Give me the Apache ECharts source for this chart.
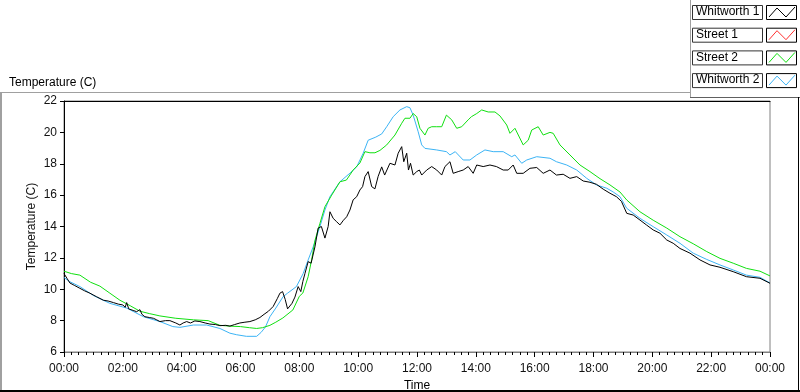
<!DOCTYPE html>
<html>
<head>
<meta charset="utf-8">
<script src="https://cdn.jsdelivr.net/npm/echarts@6/dist/echarts.min.js"></script>
<style>
  html, body { margin: 0; padding: 0; background: #fff; }
  #chart { width: 800px; height: 392px; }
</style>
</head>
<body>
<div id="chart"></div>
<script>
// series names + colours (legend order)
const seriesNames = ['Whitworth 1', 'Street 1', 'Street 2', 'Whitworth 2'];
const seriesColors = ['#000000', '#ff3030', '#10e010', '#3cb4f5'];

// x = hours since midnight, y = temperature (C)
const whitworth1 = [
  [0, 11.0], [0.1, 10.7], [0.2, 10.4], [0.35, 10.25], [0.54, 10.06], [0.7, 9.9], [0.88, 9.75],
  [1.1, 9.53], [1.34, 9.3], [1.5, 9.25], [1.68, 9.15], [1.85, 9.05], [2.0, 9.0], [2.08, 8.85],
  [2.13, 9.15], [2.2, 8.75], [2.35, 8.65], [2.47, 8.57], [2.58, 8.7], [2.65, 8.4], [2.75, 8.25],
  [2.9, 8.2], [3.04, 8.15], [3.15, 8.05], [3.26, 7.94], [3.45, 8.0], [3.6, 8.0], [3.8, 7.85],
  [3.94, 7.72], [4.05, 7.85], [4.17, 7.94], [4.3, 7.85], [4.45, 7.98], [4.62, 7.94], [4.8, 7.85],
  [4.96, 7.78], [5.15, 7.75], [5.3, 7.68], [5.5, 7.7], [5.64, 7.65], [5.8, 7.75], [5.98, 7.85],
  [6.15, 7.9], [6.32, 7.94], [6.5, 8.05], [6.66, 8.2], [6.8, 8.4], [6.95, 8.6], [7.11, 8.9],
  [7.25, 9.4], [7.34, 9.75], [7.43, 9.85], [7.52, 9.35], [7.6, 8.75], [7.66, 8.68], [7.75, 9.1],
  [7.85, 9.5], [7.96, 10.17], [8.05, 9.85], [8.12, 10.5], [8.19, 11.0], [8.3, 11.76], [8.4, 11.66],
  [8.53, 12.7], [8.64, 13.9], [8.75, 14.0], [8.87, 13.26], [8.98, 14.0], [9.04, 14.94], [9.15, 14.52],
  [9.27, 14.3], [9.38, 14.1], [9.5, 14.4], [9.61, 14.62], [9.72, 15.05], [9.83, 15.7], [9.95, 15.9],
  [10.06, 16.33], [10.15, 16.54], [10.23, 17.18], [10.34, 17.5], [10.46, 16.54], [10.57, 16.4],
  [10.68, 17.2], [10.8, 17.8], [10.9, 17.28], [11.08, 18.03], [11.25, 17.92], [11.36, 18.67],
  [11.48, 19.09], [11.55, 18.13], [11.65, 18.67], [11.71, 17.6], [11.78, 18.03], [11.87, 17.28],
  [11.99, 17.5], [12.08, 17.6], [12.16, 17.28], [12.33, 17.6], [12.5, 17.82], [12.67, 17.6],
  [12.84, 17.28], [12.95, 17.82], [13.12, 18.13], [13.23, 17.39], [13.4, 17.5], [13.57, 17.6],
  [13.74, 17.82], [13.91, 17.39], [14.03, 17.92], [14.25, 17.82], [14.48, 17.92], [14.7, 17.82],
  [14.93, 17.6], [15.1, 17.6], [15.27, 17.92], [15.39, 17.39], [15.61, 17.39], [15.84, 17.71],
  [16.07, 17.76], [16.29, 17.39], [16.52, 17.6], [16.74, 17.28], [16.97, 17.33], [17.2, 17.07],
  [17.43, 17.18], [17.65, 16.9], [17.88, 16.82], [18.1, 16.69], [18.33, 16.38], [18.56, 16.12],
  [18.78, 15.9], [18.95, 15.6], [19.13, 14.84], [19.35, 14.73], [19.58, 14.41], [19.8, 14.1],
  [20.03, 13.78], [20.26, 13.57], [20.49, 13.14], [20.71, 12.93], [20.94, 12.6], [21.28, 12.3],
  [21.62, 11.87], [21.96, 11.55], [22.3, 11.4], [22.75, 11.12], [23.2, 10.8], [23.66, 10.7], [24, 10.38]
];

const street1 = [];

const street2 = [
  [0, 11.15], [0.25, 11.0], [0.54, 10.9], [0.9, 10.45], [1.22, 10.2], [1.56, 9.75], [1.9, 9.3],
  [2.25, 8.95], [2.58, 8.6], [2.9, 8.45], [3.26, 8.3], [3.8, 8.15], [4.4, 8.05], [4.9, 8.0],
  [5.3, 7.7], [5.64, 7.65], [6.0, 7.62], [6.3, 7.55], [6.55, 7.5], [6.75, 7.55], [7.0, 7.7],
  [7.2, 7.9], [7.44, 8.17], [7.78, 8.68], [8.0, 9.55], [8.12, 9.76], [8.3, 10.8], [8.42, 11.9],
  [8.53, 13.1], [8.7, 14.2], [8.87, 15.26], [9.1, 16.0], [9.38, 16.85], [9.6, 16.96], [9.83, 17.6],
  [10.06, 18.05], [10.23, 18.77], [10.4, 18.7], [10.57, 18.7], [10.74, 18.85], [10.97, 19.2],
  [11.25, 19.83], [11.48, 20.58], [11.59, 20.9], [11.76, 20.9], [11.87, 21.2], [11.99, 21.0],
  [12.1, 20.26], [12.27, 19.83], [12.38, 20.26], [12.5, 20.36], [12.67, 20.36], [12.84, 20.36],
  [13.0, 21.1], [13.18, 20.8], [13.35, 20.26], [13.52, 20.36], [13.74, 20.8], [13.85, 21.0],
  [14.03, 21.2], [14.2, 21.43], [14.42, 21.3], [14.65, 21.3], [14.82, 21.05], [15.05, 20.47],
  [15.16, 19.94], [15.33, 20.26], [15.61, 19.2], [15.78, 19.5], [15.9, 20.15], [16.12, 20.36],
  [16.29, 19.83], [16.52, 20.0], [16.63, 19.94], [16.86, 19.2], [17.2, 18.56], [17.54, 17.92],
  [17.88, 17.5], [18.22, 17.05], [18.56, 16.65], [18.9, 16.2], [19.13, 15.69], [19.58, 14.94],
  [20.03, 14.4], [20.49, 13.9], [20.94, 13.35], [21.39, 12.9], [21.85, 12.4], [22.3, 11.97],
  [22.75, 11.66], [23.2, 11.33], [23.66, 11.15], [24, 10.85]
];

const whitworth2 = [
  [0, 10.75], [0.2, 10.48], [0.54, 10.17], [1.0, 9.6], [1.56, 9.1], [2.13, 8.8], [2.7, 8.25],
  [3.26, 7.94], [3.7, 7.62], [3.94, 7.57], [4.4, 7.72], [4.85, 7.72], [5.3, 7.5], [5.64, 7.2],
  [5.87, 7.1], [6.2, 7.0], [6.55, 7.0], [6.7, 7.25], [6.85, 7.6], [7.0, 8.25], [7.2, 8.8],
  [7.45, 9.53], [7.6, 9.75], [7.9, 10.17], [8.13, 11.0], [8.3, 11.87], [8.47, 12.7], [8.7, 14.0],
  [8.87, 15.05], [9.04, 15.9], [9.38, 16.85], [9.72, 17.4], [9.95, 17.8], [10.17, 18.67],
  [10.34, 19.5], [10.6, 19.7], [10.8, 19.9], [10.97, 20.36], [11.19, 21.0], [11.42, 21.43],
  [11.65, 21.64], [11.76, 21.57], [11.87, 21.1], [12.04, 20.04], [12.16, 19.2], [12.27, 18.98],
  [12.67, 18.88], [13.0, 18.77], [13.12, 18.56], [13.3, 18.77], [13.57, 18.24], [13.8, 18.24],
  [14.03, 18.56], [14.31, 18.88], [14.59, 18.77], [14.93, 18.77], [15.22, 18.45], [15.33, 18.56],
  [15.56, 18.03], [15.73, 18.24], [16.07, 18.45], [16.52, 18.35], [16.74, 18.13], [17.09, 17.92],
  [17.43, 17.6], [17.77, 17.07], [18.1, 16.65], [18.45, 16.44], [18.67, 16.2], [18.9, 15.9],
  [19.13, 15.16], [19.58, 14.52], [20.03, 13.99], [20.49, 13.46], [20.94, 12.93], [21.39, 12.3],
  [21.85, 11.9], [22.3, 11.55], [22.75, 11.23], [23.2, 10.9], [23.66, 10.76], [24, 10.4]
];

const seriesData = [whitworth1, street1, street2, whitworth2];

// axis ranges
const xMin = 0, xMax = 24, xStep = 2;
const yMin = 6, yMax = 22, yStep = 2;

const FONT = 'Liberation Sans';
const chart = echarts.init(document.getElementById('chart'), null, { renderer: 'canvas' });

const hourLabel = v => String(v % 24).padStart(2, '0') + ':00';

// hand-made legend boxes, LabVIEW style
const legendItems = [];
seriesNames.forEach((name, i) => {
  const top = 5 + i * 22.7;
  legendItems.push({
    type: 'rect', shape: { x: 692.5, y: top + 0.5, width: 70, height: 14 },
    style: { fill: '#fff', stroke: '#333', lineWidth: 1 }
  });
  legendItems.push({
    type: 'text', x: 696, y: top + 1,
    style: { text: name, font: '12px ' + FONT, fill: '#000' }
  });
  legendItems.push({
    type: 'rect', shape: { x: 766.5, y: top + 0.5, width: 30, height: 14 },
    style: { fill: '#fff', stroke: '#000', lineWidth: 1 }
  });
  legendItems.push({
    type: 'polyline',
    shape: { points: [[769, top + 12], [777, top + 3], [786, top + 12], [795, top + 2]] },
    style: { stroke: seriesColors[i], lineWidth: 1, fill: null }
  });
});

const frame = [
  { type: 'line', shape: { x1: 0, y1: 92.5, x2: 690, y2: 92.5 }, style: { stroke: '#a0a0a0', lineWidth: 1 } },
  { type: 'line', shape: { x1: 690.5, y1: 0, x2: 690.5, y2: 97 }, style: { stroke: '#a0a0a0', lineWidth: 1 } },
  { type: 'line', shape: { x1: 690, y1: 97.5, x2: 800, y2: 97.5 }, style: { stroke: '#606060', lineWidth: 1 } },
  { type: 'line', shape: { x1: 1, y1: 92, x2: 1, y2: 392 }, style: { stroke: '#a0a0a0', lineWidth: 2 } },
  { type: 'line', shape: { x1: 0, y1: 391, x2: 800, y2: 391 }, style: { stroke: '#000', lineWidth: 2 } },
  { type: 'line', shape: { x1: 798.5, y1: 97, x2: 798.5, y2: 392 }, style: { stroke: '#000', lineWidth: 1 } }
];

const option = {
  animation: false,
  backgroundColor: '#fff',
  title: {
    text: 'Temperature (C)',
    left: 4, top: 72,
    textStyle: { fontFamily: FONT, fontSize: 12, fontWeight: 'normal', color: '#000' }
  },
  grid: {
    left: 64, right: 30, top: 101, bottom: 40,
    outerBoundsMode: 'none',
    containLabel: false,
    show: true, borderColor: '#808080', borderWidth: 1, backgroundColor: '#fff'
  },
  xAxis: [
    {
      type: 'value', min: xMin, max: xMax, interval: xStep,
      name: 'Time', nameLocation: 'middle', nameGap: 28, nameMoveOverlap: false,
      nameTextStyle: { fontFamily: FONT, fontSize: 12, color: '#000' },
      axisLine: { lineStyle: { color: '#808080', width: 1 } },
      axisTick: { length: 5, lineStyle: { color: '#000' } },
      minorTick: { show: true, splitNumber: 8, length: 3, lineStyle: { color: '#000' } },
      axisLabel: {
        margin: 11, fontFamily: FONT, fontSize: 12, color: '#111',
        showMinLabel: true, showMaxLabel: true, formatter: hourLabel
      },
      splitLine: { show: false }
    },
    {
      type: 'value', min: xMin, max: xMax, position: 'top',
      axisLine: { show: true, lineStyle: { color: '#000', width: 1 } },
      axisTick: { show: false }, axisLabel: { show: false }, splitLine: { show: false }
    }
  ],
  yAxis: {
    type: 'value', min: yMin, max: yMax, interval: yStep,
    name: 'Temperature (C)', nameLocation: 'middle', nameGap: 26, nameMoveOverlap: false,
    nameTextStyle: { fontFamily: FONT, fontSize: 12, color: '#111' },
    axisLine: { show: true, lineStyle: { color: '#000', width: 1 } },
    axisTick: { show: true, length: 4, lineStyle: { color: '#000' } },
    axisLabel: { margin: 7, fontFamily: FONT, fontSize: 12, color: '#111' },
    splitLine: { show: false }
  },
  graphic: frame.concat(legendItems),
  series: seriesNames.map((name, i) => ({
    name: name,
    type: 'line',
    data: seriesData[i],
    showSymbol: false,
    symbol: 'none',
    lineStyle: { color: seriesColors[i], width: 1 },
    itemStyle: { color: seriesColors[i] },
    z: 10 - i
  }))
};

chart.setOption(option);
</script>
</body>
</html>
